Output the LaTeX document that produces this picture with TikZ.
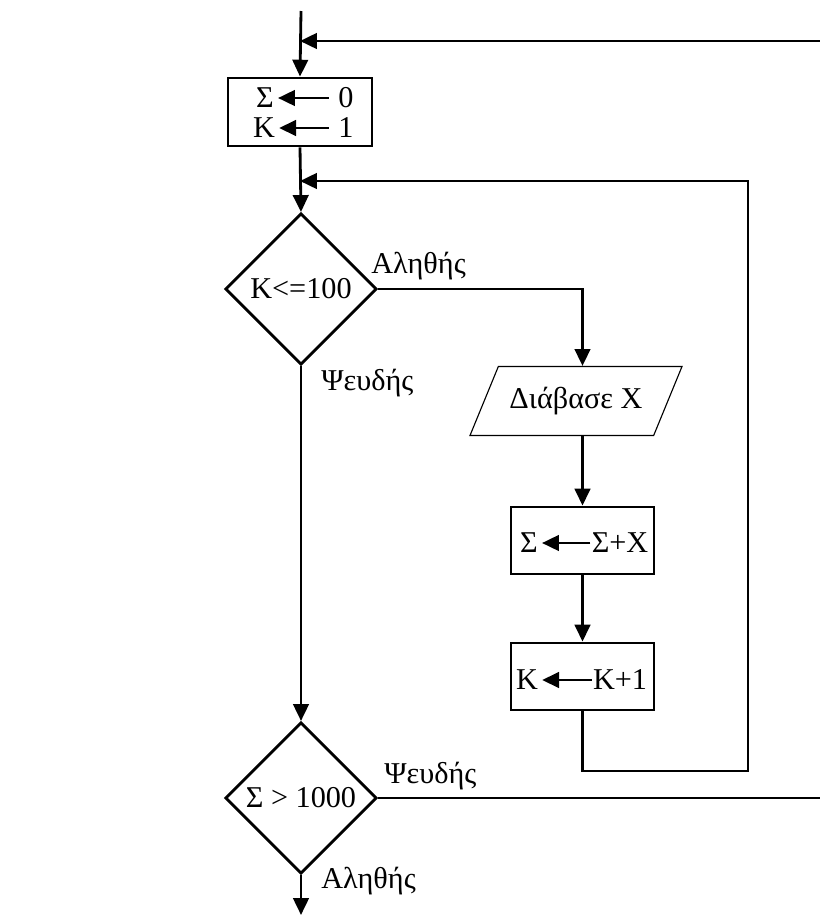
\documentclass[tikz,border=0pt]{standalone}
\usepackage{fontspec}
\setmainfont{Liberation Serif}
\usetikzlibrary{shapes.geometric}
\usetikzlibrary{arrows.meta}

\begin{document}
\begin{tikzpicture}[x=0.025cm,y=-0.025cm,line width=2pt,
font=\fontsize{21.5}{26}\selectfont,
flow/.style={-{Triangle[width=11pt,length=12pt]}},
procblock/.style={draw,rectangle,minimum width=3.575cm,minimum height=1.675cm,line width=2pt},
testblock/.style={draw,diamond,aspect=1,inner sep=0pt,minimum width=3.78cm,minimum height=3.78cm,line width=2pt},
ioblock/.style={draw,trapezium,trapezium left angle=55,trapezium right angle=125,trapezium stretches=true,minimum width=5.3cm,minimum height=1.725cm,line width=.8pt},
cell/.style={inner sep=2pt},
lbl/.style={anchor=base west,inner sep=0pt}]

\useasboundingbox (0,0) rectangle (820,916);

% blocks
\draw (300,112) node[procblock,minimum width=3.6cm,minimum height=1.7cm] (B1) {};
\draw (301,289) node[testblock] (D1) {K<=100};
\draw (576,401) node[ioblock] (P) {Διάβασε X};
\draw (582.5,540.5) node[procblock] (B2) {};
\draw (582.5,676.5) node[procblock] (B3) {};
\draw (301,798) node[testblock] (D2) {Σ > 1000};

% assignments
\draw (265,98) node[cell] (S0) {Σ};
\draw (346,98) node[cell] (V0) {0};
\draw (264,128) node[cell] (K0) {K};
\draw (346,128) node[cell] (V1) {1};
\draw (529,543) node[cell] (S1) {Σ};
\draw (620,543) node[cell,inner sep=0pt] (V2) {Σ+X};
\draw (527,680) node[cell] (K1) {K};
\draw (620,680) node[cell,inner sep=0pt] (V3) {K+1};
\draw[flow,shorten <=4pt] (V0.west) -- (S0.east);
\draw[flow,shorten <=4pt] (V1.west) -- (K0.east);
\draw[flow] (V2.west) -- (S1.east);
\draw[flow] (V3.west) -- (K1.east);

% labels
\draw (370,273) node[lbl] (T1) {Αληθής};
\draw (320,390) node[lbl] (F1) {Ψευδής};
\draw (383,783) node[lbl] (F2) {Ψευδής};
\draw (320,888) node[lbl] (T2) {Αληθής};

% connectors
\coordinate (start) at (301,11);
\coordinate (in) at (820,41);
\coordinate (loopB) at (748,771);
\coordinate (loopT) at (748,181);
\coordinate (out) at (820,798);
\coordinate (end) at (301,915);

\draw[flow] (start) -- (B1.north);
\draw[flow] (in) -- (in -| B1.north);
\draw[flow] (B1.south) -- (D1.north);
\draw[flow] (B3.south) |- (loopB) -- (loopT) -- (loopT -| B1.south);
\draw[flow] (D1.east) -| (P.north -| B2.north);
\draw[flow] (P.south -| B2.north) -- (B2.north);
\draw[flow] (B2.south) -- (B3.north);
\draw[flow] (D1.south) -- (D2.north);
\draw (D2.east) -- (out);
\draw[flow] (D2.south) -- (end);

\end{tikzpicture}
\end{document}
